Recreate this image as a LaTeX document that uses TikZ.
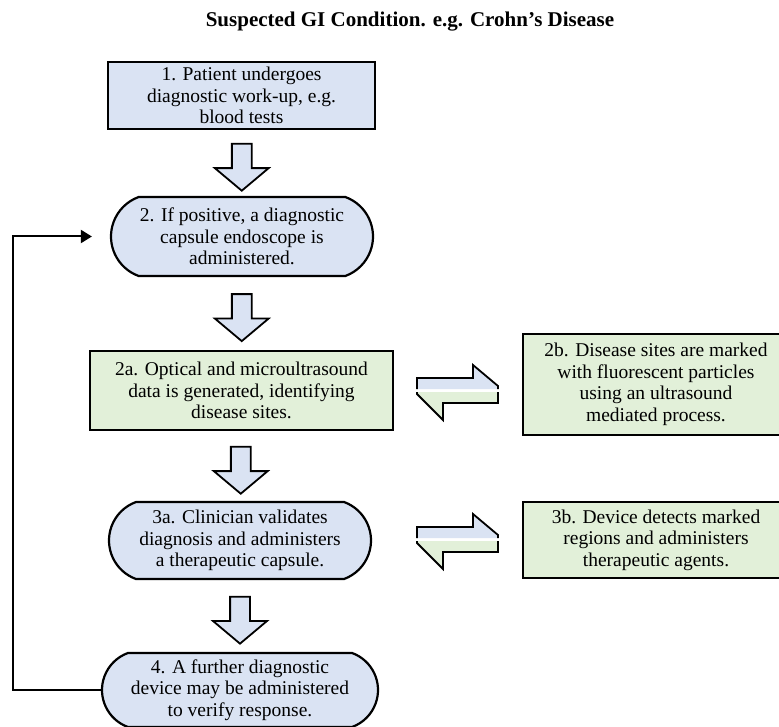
\documentclass[tikz,border=0pt]{standalone}
\usepackage{fontspec}
\setmainfont{Liberation Serif}
\usetikzlibrary{positioning, calc, shapes.misc, shapes.arrows, arrows.meta}
\definecolor{boxblue}{RGB}{218,227,243}
\definecolor{boxgreen}{RGB}{226,240,217}
\tikzset{
	x = 1pt,
	y = -1pt,
	textsize/.style = {font = \fontsize{19.5}{21.5}\selectfont},
	bluebox/.style = {
		textsize,
		rectangle,
		draw = black,
		line width = 2.4pt,
		fill = boxblue,
		align = center,
		inner sep = 2pt
	},
	greenbox/.style = {
		bluebox,
		fill = boxgreen
	},
	capsule/.style = {
		textsize,
		rounded rectangle,
		rounded rectangle arc length = 140,
		draw = black,
		line width = 2.2pt,
		fill = boxblue,
		align = center,
		inner sep = 2pt
	},
	downarrow/.style = {
		single arrow,
		draw = black,
		line width = 1.8pt,
		fill = boxblue,
		rotate = -90,
		minimum height = 47pt,
		single arrow head extend = 17pt,
		single arrow tip angle = 100,
		inner sep = 9pt
	},
	feedback/.style = {
		line width = 2pt,
		-{Triangle[length=11pt, width=13pt]}
	},
	swaparrow/.pic = {
		\fill[boxblue] (-40,-1) -- (-40,-12) -- (16,-12) -- (16,-25) -- (41,-4) -- (41,-1) -- cycle;
		\draw[line width=1.8pt] (-40,-1) -- (-40,-12) -- (16,-12) -- (16,-25) -- (41,-4) -- (41,-1);
		\fill[boxgreen] (41,2) -- (41,13) -- (-14,13) -- (-14,30) -- (-40,4) -- (-40,2) -- cycle;
		\draw[line width=1.8pt] (41,2) -- (41,13) -- (-14,13) -- (-14,30) -- (-40,4) -- (-40,2);
	}
}

\begin{document}
\begin{tikzpicture}
		\useasboundingbox (0,0) rectangle (779,727);

		\node[font=\fontsize{21}{24}\selectfont\bfseries] (title) at (410,22) {Suspected GI Condition. e.g. Crohn’s Disease};

		\node[bluebox, minimum width=267pt, minimum height=67pt] (B1) at (241.5,95.5) {1. Patient undergoes\\diagnostic work-up, e.g.\\blood tests};
		\node[capsule, minimum width=266pt, minimum height=79pt] (N2) at (242,236.5) {2. If positive, a diagnostic\\capsule endoscope is\\administered.};
		\node[greenbox, minimum width=303pt, minimum height=79pt] (B2a) at (241.5,390.5) {2a. Optical and microultrasound\\data is generated, identifying\\disease sites.};
		\node[greenbox, minimum width=266pt, minimum height=101pt] (B2b) at (656,384.5) {2b. Disease sites are marked\\with fluorescent particles\\using an ultrasound\\mediated process.};
		\node[capsule, minimum width=266pt, minimum height=77pt] (N3a) at (240,540.5) {3a. Clinician validates\\diagnosis and administers\\a therapeutic capsule.};
		\node[greenbox, minimum width=266pt, minimum height=76pt] (B3b) at (656,540) {3b. Device detects marked\\regions and administers\\therapeutic agents.};
		\node[capsule, minimum width=280pt, minimum height=74pt] (N4) at (240,690) {4. A further diagnostic\\device may be administered\\to verify response.};

		\node[downarrow] (A1) at ($(B1.south)!0.5!(N2.north)$) {};
		\node[downarrow] (A2) at ($(N2.south)!0.5!(B2a.north)$) {};
		\node[downarrow] (A3) at ($(B2a.south)!0.5!(N3a.north)$) {};
		\node[downarrow] (A4) at ($(N3a.south)!0.5!(N4.north)$) {};

		\pic at (457,390) {swaparrow};
		\pic at (457,539) {swaparrow};

		\draw[feedback] (N4.west) -- ++(-88,0) |- ([xshift=-18pt]N2.west);

	\end{tikzpicture}
\end{document}
